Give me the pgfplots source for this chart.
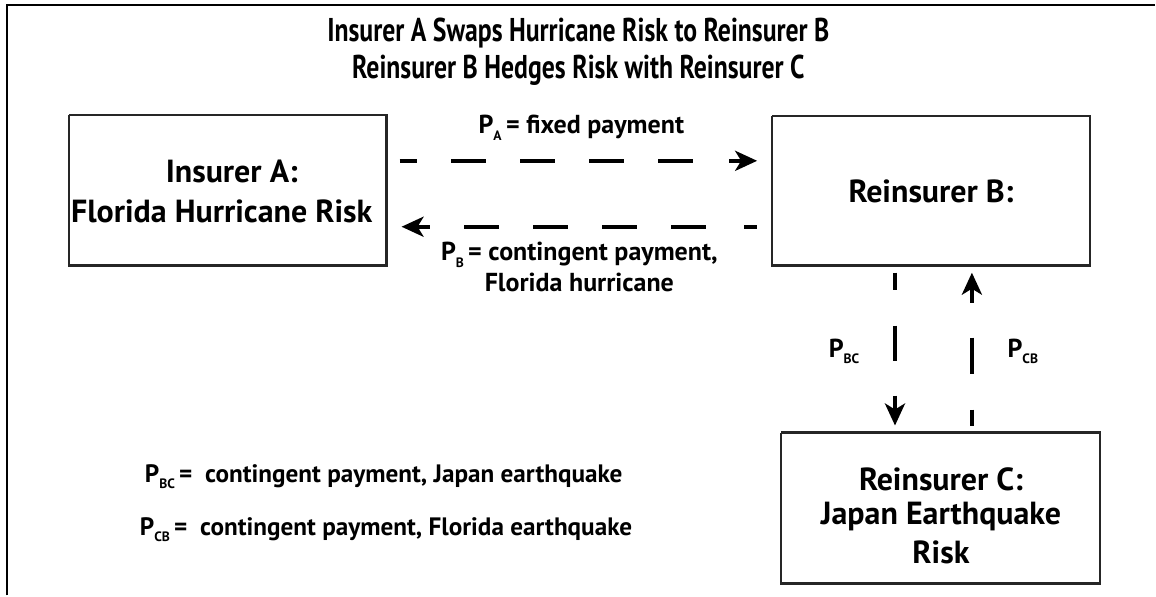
\documentclass[border=0pt]{standalone}
\usepackage{pgfplots}
\pgfplotsset{compat=1.18}
\usepackage{fontspec}
\setmainfont{PT Sans}
\newfontfamily\titlefont{PT Sans}[FakeStretch=0.78]
\newfontfamily\bodyfont{PT Sans}
\usetikzlibrary{arrows.meta}
\newcommand{\Ps}[1]{P\raisebox{-0.5ex}{\fontsize{6.8}{6.8}\selectfont #1}}
\begin{document}
\begin{tikzpicture}
\begin{axis}[
  width=578pt, height=298pt, scale only axis,
  xmin=0, xmax=1156, ymin=0, ymax=596, y dir=reverse,
  axis lines=none, clip=false,
  unbounded coords=jump,
  every node/.style={font=\bodyfont\bfseries, align=center, inner sep=0pt},
]
% invisible extent
\addplot[draw=none] coordinates {(0,0) (1156,596)};
% outer frame (left and top)
\addplot[black, line width=1.3pt] coordinates {(7,596) (7,5) (1156,5)};
% boxes
\addplot[black!85, line width=1.2pt] coordinates {(69,115) (387,115) (387,266) (69,266) (69,115)};
\addplot[black!85, line width=1.2pt] coordinates {(773,116) (1091,116) (1091,266) (773,266) (773,116)};
\addplot[black!85, line width=1.2pt] coordinates {(782,433) (1101,433) (1101,584) (782,584) (782,433)};
% top dashed arrow A -> B
\addplot[black, line width=2pt] coordinates {(400,161) (417,161) (nan,nan) (452,161) (487,161) (nan,nan) (521,161) (556,161) (nan,nan) (590,161) (625,161) (nan,nan) (659,161) (694,161)};
\addplot[black, line width=2pt, -{Stealth[length=11pt, width=10pt, inset=3pt]}] coordinates {(730,161) (758,161)};
% bottom dashed arrow B -> A
\addplot[black, line width=2pt] coordinates {(465,227) (500,227) (nan,nan) (534,227) (569,227) (nan,nan) (603,227) (638,227) (nan,nan) (672,227) (707,227) (nan,nan) (745,227) (758,227)};
\addplot[black, line width=2pt, -{Stealth[length=11pt, width=10pt, inset=3pt]}] coordinates {(430,227) (402,227)};
% vertical B -> C
\addplot[black, line width=2pt] coordinates {(896,273) (896,290) (nan,nan) (896,326) (896,361)};
\addplot[black, line width=2pt, -{Stealth[length=11pt, width=10pt, inset=3pt]}] coordinates {(896,396) (896,426)};
% vertical C -> B
\addplot[black, line width=2pt] coordinates {(973,338) (973,374) (nan,nan) (973,410) (973,426)};
\addplot[black, line width=2pt, -{Stealth[length=11pt, width=10pt, inset=3pt]}] coordinates {(973,303) (973,273)};
% titles
\node[font=\titlefont\bfseries\fontsize{16.5}{16.5}\selectfont] at (axis cs:579,33) {Insurer A Swaps Hurricane Risk to Reinsurer B};
\node[font=\titlefont\bfseries\fontsize{16.5}{16.5}\selectfont] at (axis cs:579,70) {Reinsurer B Hedges Risk with Reinsurer C};
% box texts
\node[font=\bodyfont\bfseries\fontsize{16}{16}\selectfont] at (axis cs:232,172) {Insurer A:};
\node[font=\bodyfont\bfseries\fontsize{16}{16}\selectfont] at (axis cs:222,212) {Florida Hurricane Risk};
\node[font=\bodyfont\bfseries\fontsize{16}{16}\selectfont] at (axis cs:932,192) {Reinsurer B:};
\node[font=\bodyfont\bfseries\fontsize{16}{16}\selectfont] at (axis cs:942,480) {Reinsurer C:};
\node[font=\bodyfont\bfseries\fontsize{16}{16}\selectfont] at (axis cs:942,517) {Japan Earthquake};
\node[font=\bodyfont\bfseries\fontsize{16}{16}\selectfont] at (axis cs:942,553) {Risk};
% arrow labels
\node[font=\bodyfont\bfseries\fontsize{13}{13}\selectfont] at (axis cs:582,128) {\Ps{A}\,= fixed payment};
\node[font=\bodyfont\bfseries\fontsize{13}{13}\selectfont] at (axis cs:580,255) {\Ps{B}\,= contingent payment,};
\node[font=\bodyfont\bfseries\fontsize{13}{13}\selectfont] at (axis cs:580,283) {Florida hurricane};
\node[font=\bodyfont\bfseries\fontsize{13}{13}\selectfont] at (axis cs:845,352) {\Ps{BC}};
\node[font=\bodyfont\bfseries\fontsize{13}{13}\selectfont] at (axis cs:1024,352) {\Ps{CB}};
% legend lines
\node[anchor=west, font=\bodyfont\bfseries\fontsize{12.6}{12.6}\selectfont] at (axis cs:138,477) {\Ps{BC}\,= \ contingent payment, Japan earthquake};
\node[anchor=west, font=\bodyfont\bfseries\fontsize{12.6}{12.6}\selectfont] at (axis cs:133,530) {\Ps{CB}\,= \ contingent payment, Florida earthquake};
\end{axis}
\end{tikzpicture}
\end{document}
